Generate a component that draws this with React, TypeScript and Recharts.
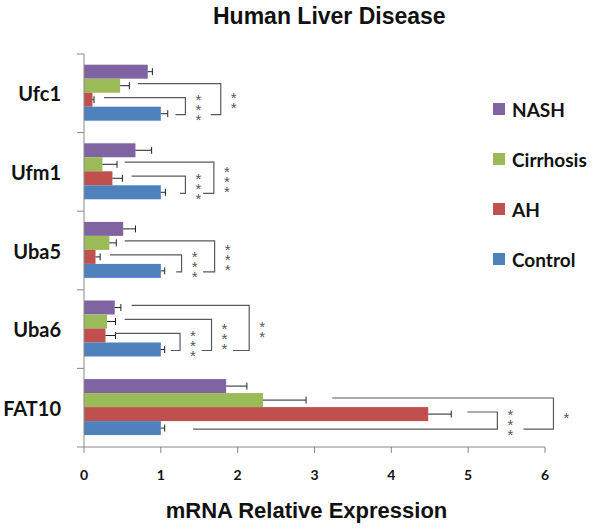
import { Bar, BarChart, Legend, XAxis, YAxis } from 'recharts'

const categories = ['Ufc1', 'Ufm1', 'Uba5', 'Uba6', 'FAT10']
const seriesNames = ['NASH', 'Cirrhosis', 'AH', 'Control']
const seriesKeys = ['nash', 'cirrhosis', 'ah', 'control']

const nash = [0.83, 0.67, 0.51, 0.4, 1.85]
const nashErr = [0.06, 0.21, 0.16, 0.08, 0.27]
const cirrhosis = [0.47, 0.24, 0.33, 0.3, 2.33]
const cirrhosisErr = [0.12, 0.19, 0.09, 0.11, 0.56]
const ah = [0.11, 0.37, 0.15, 0.28, 4.48]
const ahErr = [0.02, 0.13, 0.06, 0.13, 0.3]
const control = [1, 1, 1, 1, 1]
const controlErr = [0.09, 0.06, 0.05, 0.05, 0.05]

const xTicks = [0, 1, 2, 3, 4, 5, 6]

// significance brackets: compared series vs Control, values in x-axis units
const brackets = [
  { cat: 'Ufc1', series: 'AH', from: 0.26, turn: 1.32, back: 1.19, mark: '***' },
  { cat: 'Ufc1', series: 'Cirrhosis', from: 0.7, turn: 1.78, back: 1.65, mark: '**' },
  { cat: 'Ufm1', series: 'AH', from: 0.62, turn: 1.32, back: 1.25, mark: '***' },
  { cat: 'Ufm1', series: 'Cirrhosis', from: 0.53, turn: 1.69, back: 1.55, mark: '***' },
  { cat: 'Uba5', series: 'AH', from: 0.34, turn: 1.27, back: 1.2, mark: '***' },
  { cat: 'Uba5', series: 'Cirrhosis', from: 0.53, turn: 1.7, back: 1.55, mark: '***' },
  { cat: 'Uba6', series: 'AH', from: 0.4, turn: 1.25, back: 1.13, mark: '***' },
  { cat: 'Uba6', series: 'Cirrhosis', from: 0.53, turn: 1.66, back: 1.53, mark: '***' },
  { cat: 'Uba6', series: 'NASH', from: 0.62, turn: 2.15, back: 1.94, mark: '**' },
  { cat: 'FAT10', series: 'AH', from: 4.99, turn: 5.38, back: 1.42, mark: '***' },
  { cat: 'FAT10', series: 'Cirrhosis', from: 3.23, turn: 6.11, back: 5.72, mark: '*' },
]

const colors: Record<string, string> = {
  nash: '#8064A2',
  cirrhosis: '#9BBB59',
  ah: '#C0504D',
  control: '#4F81BD',
}

const data = categories.map((name, i) => ({
  name,
  nash: nash[i],
  nashErr: nashErr[i],
  cirrhosis: cirrhosis[i],
  cirrhosisErr: cirrhosisErr[i],
  ah: ah[i],
  ahErr: ahErr[i],
  control: control[i],
  controlErr: controlErr[i],
}))

const labelFont = 'Lato, "Open Sans", sans-serif'
const headFont = '"Liberation Sans", Arial, sans-serif'

function makeShape(key: string) {
  return function BarShape(props: any) {
    const { x, y, width, height, fill, payload } = props
    const ppu = width / payload[key]
    const cy = y + height / 2
    const ex = x + width + payload[key + 'Err'] * ppu
    const own = key === 'control' ? brackets.filter((b) => b.cat === payload.name) : []
    return (
      <g>
        <rect x={x} y={y} width={width} height={height} fill={fill} />
        <line x1={x + width} x2={ex} y1={cy} y2={cy} stroke="#222" />
        <line x1={ex} x2={ex} y1={cy - 3.5} y2={cy + 3.5} stroke="#222" />
        {own.map((b, j) => {
          const idx = seriesNames.indexOf(b.series)
          const topY = cy - (3 - idx) * height - height * 0.15
          const botY = cy + 1
          const tx = x + b.turn * ppu
          const lx = tx + 13
          const ly = (topY + botY) / 2
          return (
            <g key={j}>
              <path
                d={`M${x + b.from * ppu},${topY}H${tx}V${botY}H${x + b.back * ppu}`}
                fill="none"
                stroke="#595959"
                strokeWidth={1.2}
              />
              <text
                x={lx}
                y={ly}
                textAnchor="middle"
                fontSize={15}
                letterSpacing={-7}
                fontFamily={headFont}
                fill="#555"
                style={{ writingMode: 'vertical-rl', textOrientation: 'upright' }}
              >
                {b.mark}
              </text>
            </g>
          )
        })}
      </g>
    )
  }
}

function CategoryTick(props: any) {
  const { x, y, payload, index } = props
  const half = payload.offset ?? 39.3
  return (
    <g>
      <line x1={x - 7} x2={x} y1={y - half} y2={y - half} stroke="#888" />
      {index === categories.length - 1 && <line x1={x - 7} x2={x} y1={y + half} y2={y + half} stroke="#888" />}
      <text
        x={x - 23}
        y={y}
        textAnchor="end"
        dominantBaseline="central"
        fontSize={20}
        fontWeight="bold"
        fontFamily={labelFont}
        fill="#111"
      >
        {payload.value}
      </text>
    </g>
  )
}

function LegendBox() {
  return (
    <div style={{ fontFamily: labelFont, fontWeight: 'bold', fontSize: 19, color: '#111' }}>
      {seriesKeys.map((k, i) => (
        <div key={k} style={{ height: 50, display: 'flex', alignItems: 'center' }}>
          <span style={{ width: 12, height: 12, background: colors[k], marginRight: 7, display: 'inline-block' }} />
          {seriesNames[i]}
        </div>
      ))}
    </div>
  )
}

export default function App() {
  return (
    <div style={{ position: 'absolute', left: 0, top: 0, width: 601, height: 531, background: '#fff' }}>
      <div
        style={{
          position: 'absolute',
          left: 213,
          top: 5,
          fontFamily: headFont,
          fontWeight: 'bold',
          fontSize: 23,
          lineHeight: '23px',
          whiteSpace: 'nowrap',
          color: '#111',
        }}
      >
        Human Liver Disease
      </div>
      <BarChart
        width={601}
        height={531}
        data={data}
        layout="vertical"
        margin={{ top: 54, right: 56, bottom: 0, left: 0 }}
        barCategoryGap="13.6%"
        barGap={0}
      >
        <XAxis
          type="number"
          domain={[0, 6]}
          ticks={xTicks}
          height={84}
          stroke="#888"
          tickSize={6}
          tickMargin={17}
          tick={{ fill: '#111', fontSize: 14, fontWeight: 'bold', fontFamily: labelFont }}
          label={{
            value: 'mRNA Relative Expression',
            position: 'insideBottom',
            offset: 13,
            dx: -8,
            style: { fill: '#111', fontSize: 22, fontWeight: 'bold', fontFamily: headFont },
          }}
        />
        <YAxis
          type="category"
          dataKey="name"
          width={84}
          stroke="#888"
          tickSize={0}
          tickMargin={0}
          tickLine={false}
          interval={0}
          tick={<CategoryTick />}
        />
        {seriesKeys.map((k, i) => (
          <Bar
            key={k}
            dataKey={k}
            name={seriesNames[i]}
            fill={colors[k]}
            shape={makeShape(k)}
            isAnimationActive={false}
          />
        ))}
        <Legend
          layout="vertical"
          align="center"
          verticalAlign="middle"
          wrapperStyle={{ left: 493, top: 84, width: 108, height: 200 }}
          content={<LegendBox />}
        />
      </BarChart>
    </div>
  )
}
